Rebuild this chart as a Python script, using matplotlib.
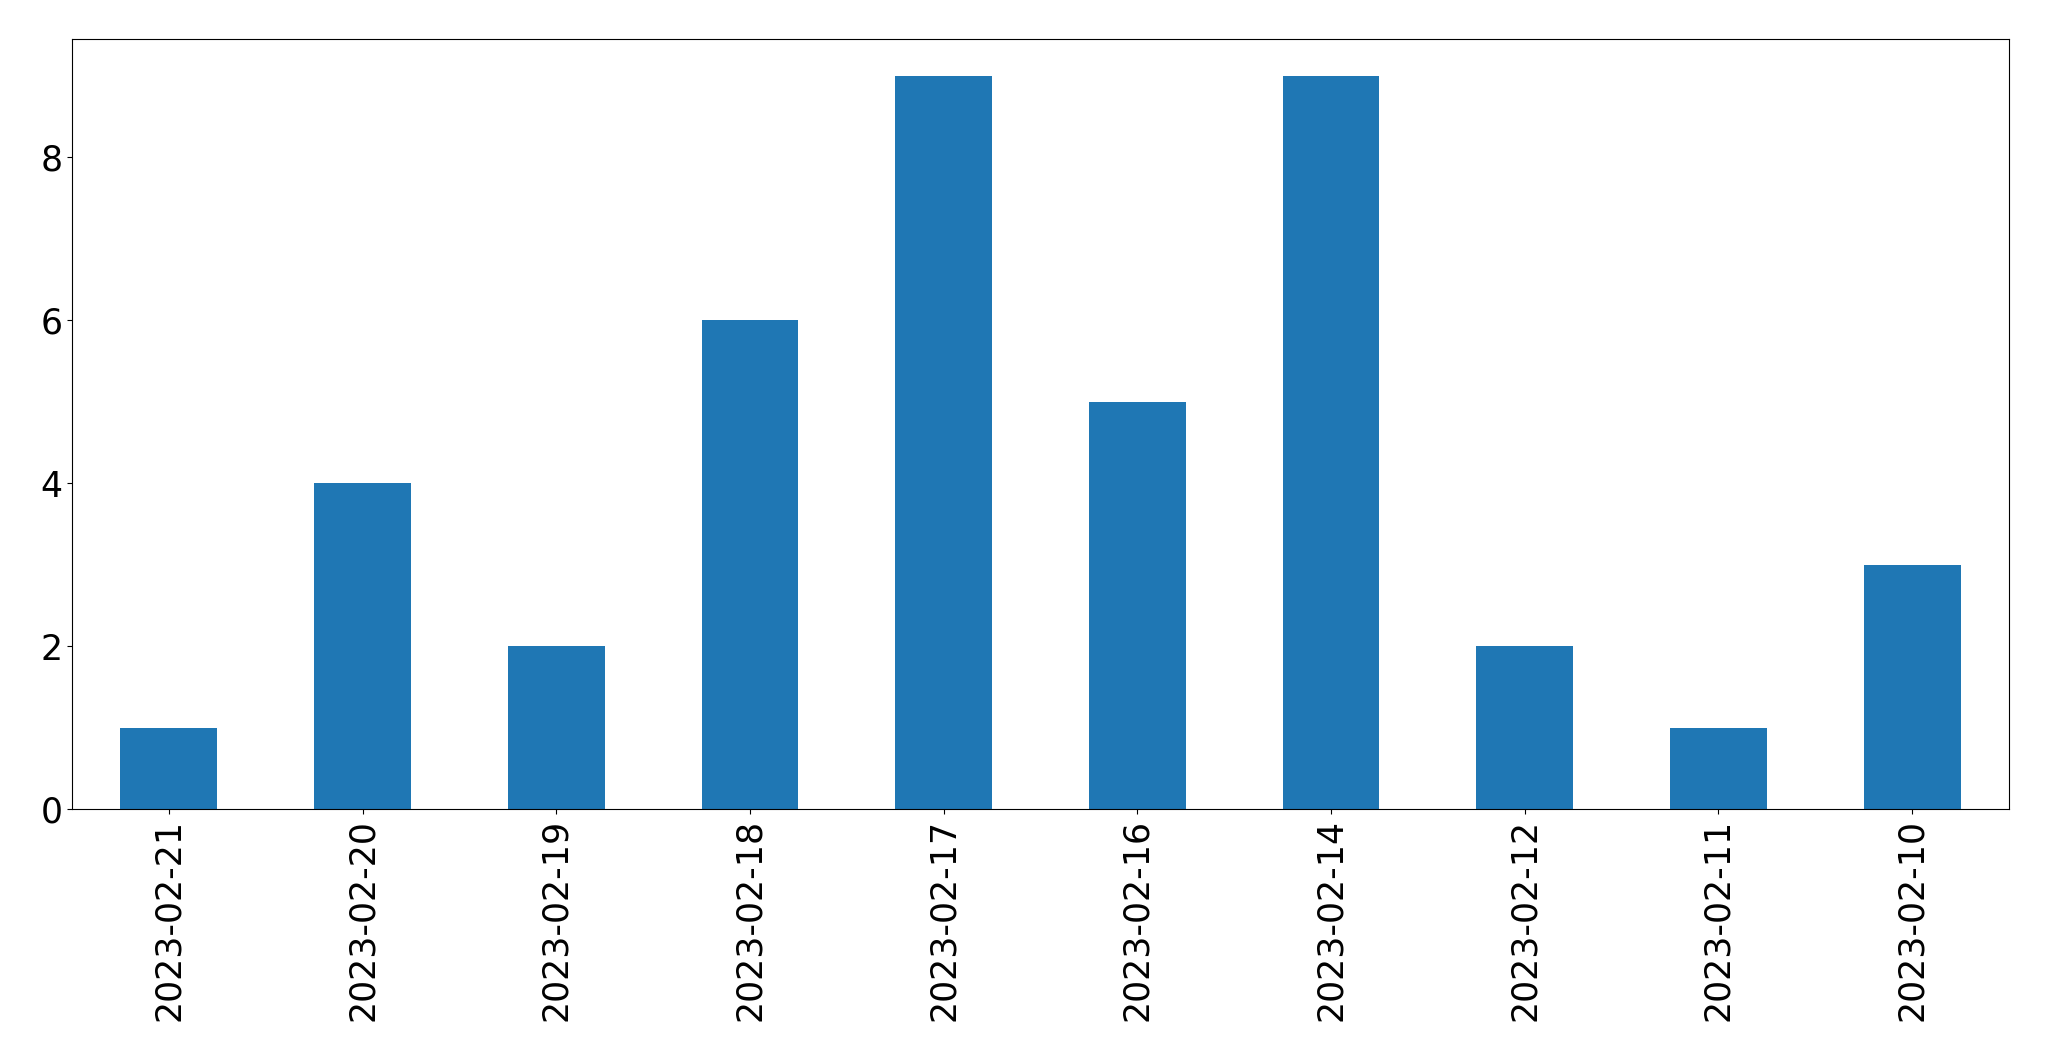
import matplotlib
matplotlib.use("Agg")
import matplotlib.pyplot as plt
import pandas as pd

# daily counts, newest first
dates = ["2023-02-21", "2023-02-20", "2023-02-19", "2023-02-18", "2023-02-17",
         "2023-02-16", "2023-02-14", "2023-02-12", "2023-02-11", "2023-02-10"]
counts = [1, 4, 2, 6, 9, 5, 9, 2, 1, 3]

series = pd.Series(counts, index=dates)

fig = plt.figure(figsize=(20.49, 10.61), dpi=100)
ax = fig.add_axes([72 / 2049, 1 - 809 / 1061, (2009 - 72) / 2049, (809 - 39) / 1061])
series.plot.bar(ax=ax, color="#1f77b4")

ax.tick_params(axis="both", labelsize=25)
ax.set_yticks([0, 2, 4, 6, 8])

fig.savefig("out.png", dpi=100)
